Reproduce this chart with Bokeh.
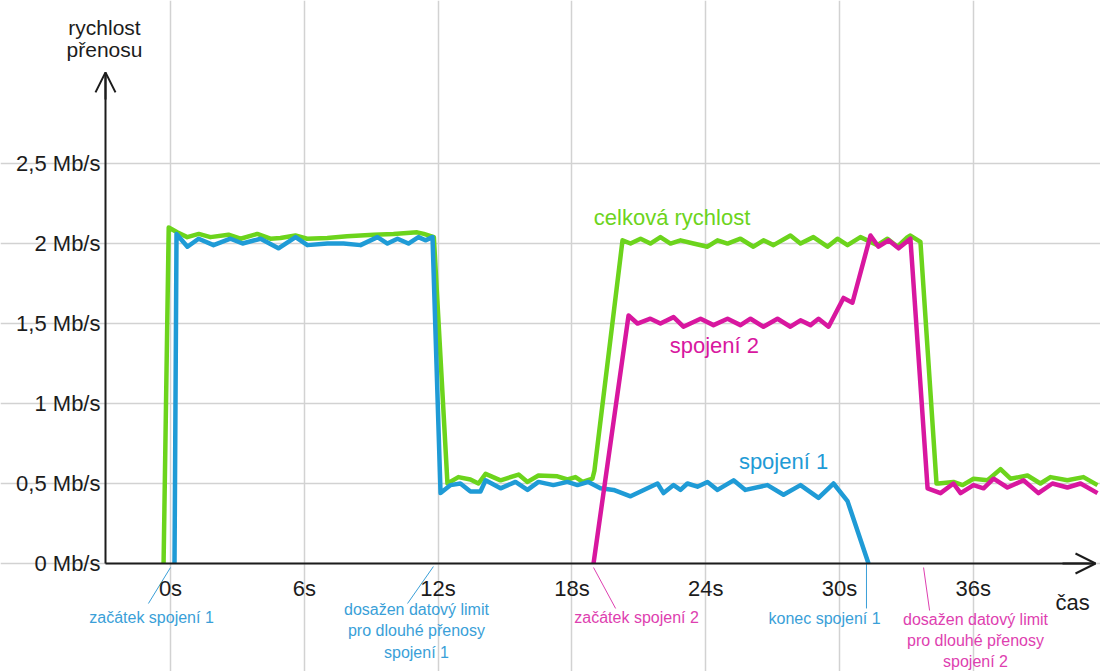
from bokeh.plotting import figure
from bokeh.models import Range1d, FixedTicker, Label, Arrow, OpenHead
from bokeh.embed import file_html
from bokeh.resources import INLINE

# ---------------- data ----------------
x_ticks = [0, 6, 12, 18, 24, 30, 36]
x_tick_labels = ["0s", "6s", "12s", "18s", "24s", "30s", "36s"]
y_ticks = [0, 0.5, 1, 1.5, 2, 2.5]
y_tick_labels = ["0 Mb/s", "0,5 Mb/s", "1 Mb/s", "1,5 Mb/s", "2 Mb/s", "2,5 Mb/s"]

# celková rychlost (total)
total_t = [-0.31, -0.08, 0.30, 0.75, 1.27, 1.79, 2.60, 3.14, 3.89, 4.48, 4.93, 5.60,
           6.13, 7.03, 7.92, 9.12, 10.0, 11.06, 11.36, 11.81, 12.42,
           12.91, 13.45, 13.81, 14.13, 14.80, 15.61, 16.01, 16.50, 17.35, 17.80,
           18.16, 18.48, 18.92, 19.01, 20.27,
           20.63, 21.08, 21.52, 21.97, 22.42, 22.87, 23.45, 24.08, 24.53, 24.98,
           25.56, 26.14, 26.59, 27.04, 27.80, 28.25, 28.83, 29.46, 29.91, 30.36,
           30.94, 31.70, 32.15, 32.60, 33.05, 33.18, 33.63, 34.35,
           34.44, 35.11, 35.52, 36.01, 36.64, 37.22, 37.67, 38.43, 39.01, 39.46,
           40.22, 40.94, 41.57]
total_v = [0.0, 2.10, 2.07, 2.04, 2.06, 2.04, 2.055, 2.03, 2.06, 2.03, 2.035, 2.05,
           2.03, 2.035, 2.045, 2.055, 2.06, 2.07, 2.06, 2.04, 0.50,
           0.54, 0.525, 0.50, 0.56, 0.52, 0.556, 0.51, 0.55, 0.545, 0.525,
           0.54, 0.51, 0.53, 0.58, 2.02,
           2.00, 2.03, 2.00, 2.04, 2.00, 2.02, 2.00, 1.98, 2.02, 2.00,
           2.03, 1.98, 2.02, 1.99, 2.05, 2.00, 2.04, 1.98, 2.03, 1.99,
           2.04, 1.99, 2.03, 1.98, 2.04, 2.05, 2.01, 0.50,
           0.50, 0.51, 0.49, 0.53, 0.52, 0.59, 0.53, 0.55, 0.50, 0.54,
           0.52, 0.54, 0.49]

# spojení 1 (connection 1)
conn1_t = [0.18, 0.27, 0.76, 1.26, 1.93, 2.69, 3.23, 4.04, 4.84, 5.61, 6.14, 7.04,
           7.76, 8.52, 9.28, 9.73, 10.18, 10.67, 11.12, 11.43, 11.75, 12.11,
           12.56, 13.00, 13.45, 13.90, 14.13, 14.80, 15.47, 16.01, 16.50, 17.17,
           17.80, 18.25, 18.74, 19.28, 19.87, 20.63, 21.84, 22.11, 22.56, 22.87,
           23.18, 23.63, 24.08, 24.53, 25.25, 25.78, 26.77, 27.49, 28.25, 29.06,
           29.73, 30.36, 31.30]
conn1_v = [0.0, 2.06, 1.98, 2.03, 1.99, 2.03, 2.00, 2.03, 1.97, 2.04, 1.99, 2.00,
           2.00, 1.99, 2.04, 2.00, 2.03, 2.00, 2.04, 2.02, 2.04, 0.44,
           0.49, 0.50, 0.45, 0.45, 0.52, 0.47, 0.51, 0.46, 0.51, 0.49,
           0.51, 0.49, 0.51, 0.47, 0.46, 0.42, 0.50, 0.44, 0.49, 0.46,
           0.50, 0.48, 0.51, 0.46, 0.52, 0.46, 0.49, 0.43, 0.49, 0.41,
           0.50, 0.39, 0.0]

# spojení 2 (connection 2)
conn2_t = [18.97, 20.54, 20.94, 21.52, 21.97, 22.56, 23.00, 23.77, 24.35, 24.98,
           25.56, 26.01, 26.59, 27.22, 27.80, 28.25, 28.70, 29.06, 29.51, 30.18,
           30.58, 31.39, 31.75, 32.20, 32.65, 33.18, 33.95, 34.53, 35.11, 35.43,
           36.01, 36.46, 36.91, 37.53, 38.25, 38.92, 39.55, 40.22, 40.81, 41.57]
conn2_v = [0.0, 1.55, 1.50, 1.53, 1.50, 1.54, 1.48, 1.53, 1.49, 1.53,
           1.49, 1.53, 1.48, 1.53, 1.48, 1.52, 1.49, 1.53, 1.48, 1.66,
           1.63, 2.05, 1.98, 2.02, 1.97, 2.03, 0.47, 0.44, 0.50, 0.44,
           0.49, 0.47, 0.53, 0.475, 0.52, 0.44, 0.50, 0.475, 0.50, 0.44]

# ---------------- styles ----------------
GREEN = "#6cd41c"
BLUE = "#1f9bd6"
MAGENTA = "#d8179f"
BLUE_TXT = "#3a9fd8"
MAG_TXT = "#de3fb0"
FONT = "Liberation Sans"

X0, X1 = -7.623, 41.704
Y0, Y1 = -0.675, 3.519
YAXIS_X = -2.915
X_TIP = 41.48

p = figure(width=1100, height=671, output_backend="svg", toolbar_location=None,
           x_range=Range1d(X0, X1), y_range=Range1d(Y0, Y1), min_border=0)
p.outline_line_color = None
p.background_fill_color = "white"

# axes
p.xaxis.fixed_location = 0
p.yaxis.fixed_location = YAXIS_X
for ax in (p.xaxis[0], p.yaxis[0]):
    ax.major_tick_out = 0
    ax.major_tick_in = 0
    ax.minor_tick_out = 0
    ax.minor_tick_in = 0
    ax.axis_line_color = "#1c1c1c"
    ax.axis_line_width = 2
    ax.major_label_text_font = FONT
    ax.major_label_text_font_size = "22px"
    ax.major_label_text_color = "#1c1c1c"
p.xaxis.ticker = FixedTicker(ticks=x_ticks)
p.xaxis.major_label_overrides = dict(zip(x_ticks, x_tick_labels))
p.xaxis.major_label_standoff = 12
p.xaxis.bounds = (YAXIS_X, X_TIP)
p.yaxis.ticker = FixedTicker(ticks=y_ticks)
p.yaxis.major_label_overrides = dict(zip(y_ticks, y_tick_labels))
p.yaxis.major_label_standoff = 5
p.yaxis.bounds = (0, 3.07)

# grids
p.xgrid.grid_line_color = "#d2d2d2"
p.xgrid.grid_line_width = 1.5
p.xgrid.bounds = (0, 3.094)
p.ygrid.grid_line_color = "#d2d2d2"
p.ygrid.grid_line_width = 1.5
p.ygrid.bounds = (YAXIS_X, 41.35)

# arrow heads on axes
p.add_layout(Arrow(end=OpenHead(size=20, line_width=2, line_color="#1c1c1c"),
                   x_start=YAXIS_X, y_start=2.9, x_end=YAXIS_X, y_end=3.07,
                   line_width=2, line_color="#1c1c1c"))
p.add_layout(Arrow(end=OpenHead(size=20, line_width=2, line_color="#1c1c1c"),
                   x_start=40.0, y_start=0, x_end=X_TIP, y_end=0,
                   line_width=2, line_color="#1c1c1c"))

# series
p.line(total_t, total_v, line_color=GREEN, line_width=4.5, line_join="round")
p.line(conn1_t, conn1_v, line_color=BLUE, line_width=4.5, line_join="round")
p.line(conn2_t, conn2_v, line_color=MAGENTA, line_width=4.5, line_join="round")

# leader lines below the time axis
leaders = [
    (0.0, -0.99, -0.025, -0.25, BLUE_TXT),
    (11.79, 10.63, -0.019, -0.25, BLUE_TXT),
    (18.97, 19.96, -0.025, -0.281, MAG_TXT),
    (31.21, 31.21, 0.0, -0.281, BLUE_TXT),
    (33.77, 34.04, -0.025, -0.294, MAG_TXT),
]
for xa, xb, ya, yb, c in leaders:
    p.line([xa, xb], [ya, yb], line_color=c, line_width=1)

def lab(x, y, text, color, size="16px"):
    p.add_layout(Label(x=x, y=y, text=text, text_color=color, text_font=FONT,
                       text_font_size=size, text_align="center", text_baseline="middle"))

# series labels
lab(22.49, 2.16, "celková rychlost", GREEN, "22px")
lab(24.39, 1.36, "spojení 2", MAGENTA, "22px")
lab(27.49, 0.64, "spojení 1", BLUE, "22px")

# axis titles
lab(-2.96, 3.35, "rychlost", "#1c1c1c", "21px")
lab(-2.96, 3.21, "přenosu", "#1c1c1c", "21px")
lab(40.45, -0.244, "čas", "#1c1c1c", "22px")

# event annotations
lab(-0.85, -0.3375, "začátek spojení 1", BLUE_TXT)
lab(11.03, -0.2875, "dosažen datový limit", BLUE_TXT)
lab(11.03, -0.419, "pro dlouhé přenosy", BLUE_TXT)
lab(11.03, -0.556, "spojení 1", BLUE_TXT)
lab(20.90, -0.3375, "začátek spojení 2", MAG_TXT)
lab(29.33, -0.344, "konec spojení 1", BLUE_TXT)
lab(36.10, -0.35, "dosažen datový limit", MAG_TXT)
lab(36.10, -0.481, "pro dlouhé přenosy", MAG_TXT)
lab(36.10, -0.6125, "spojení 2", MAG_TXT)

open("out.html", "w").write(file_html(p, INLINE))
